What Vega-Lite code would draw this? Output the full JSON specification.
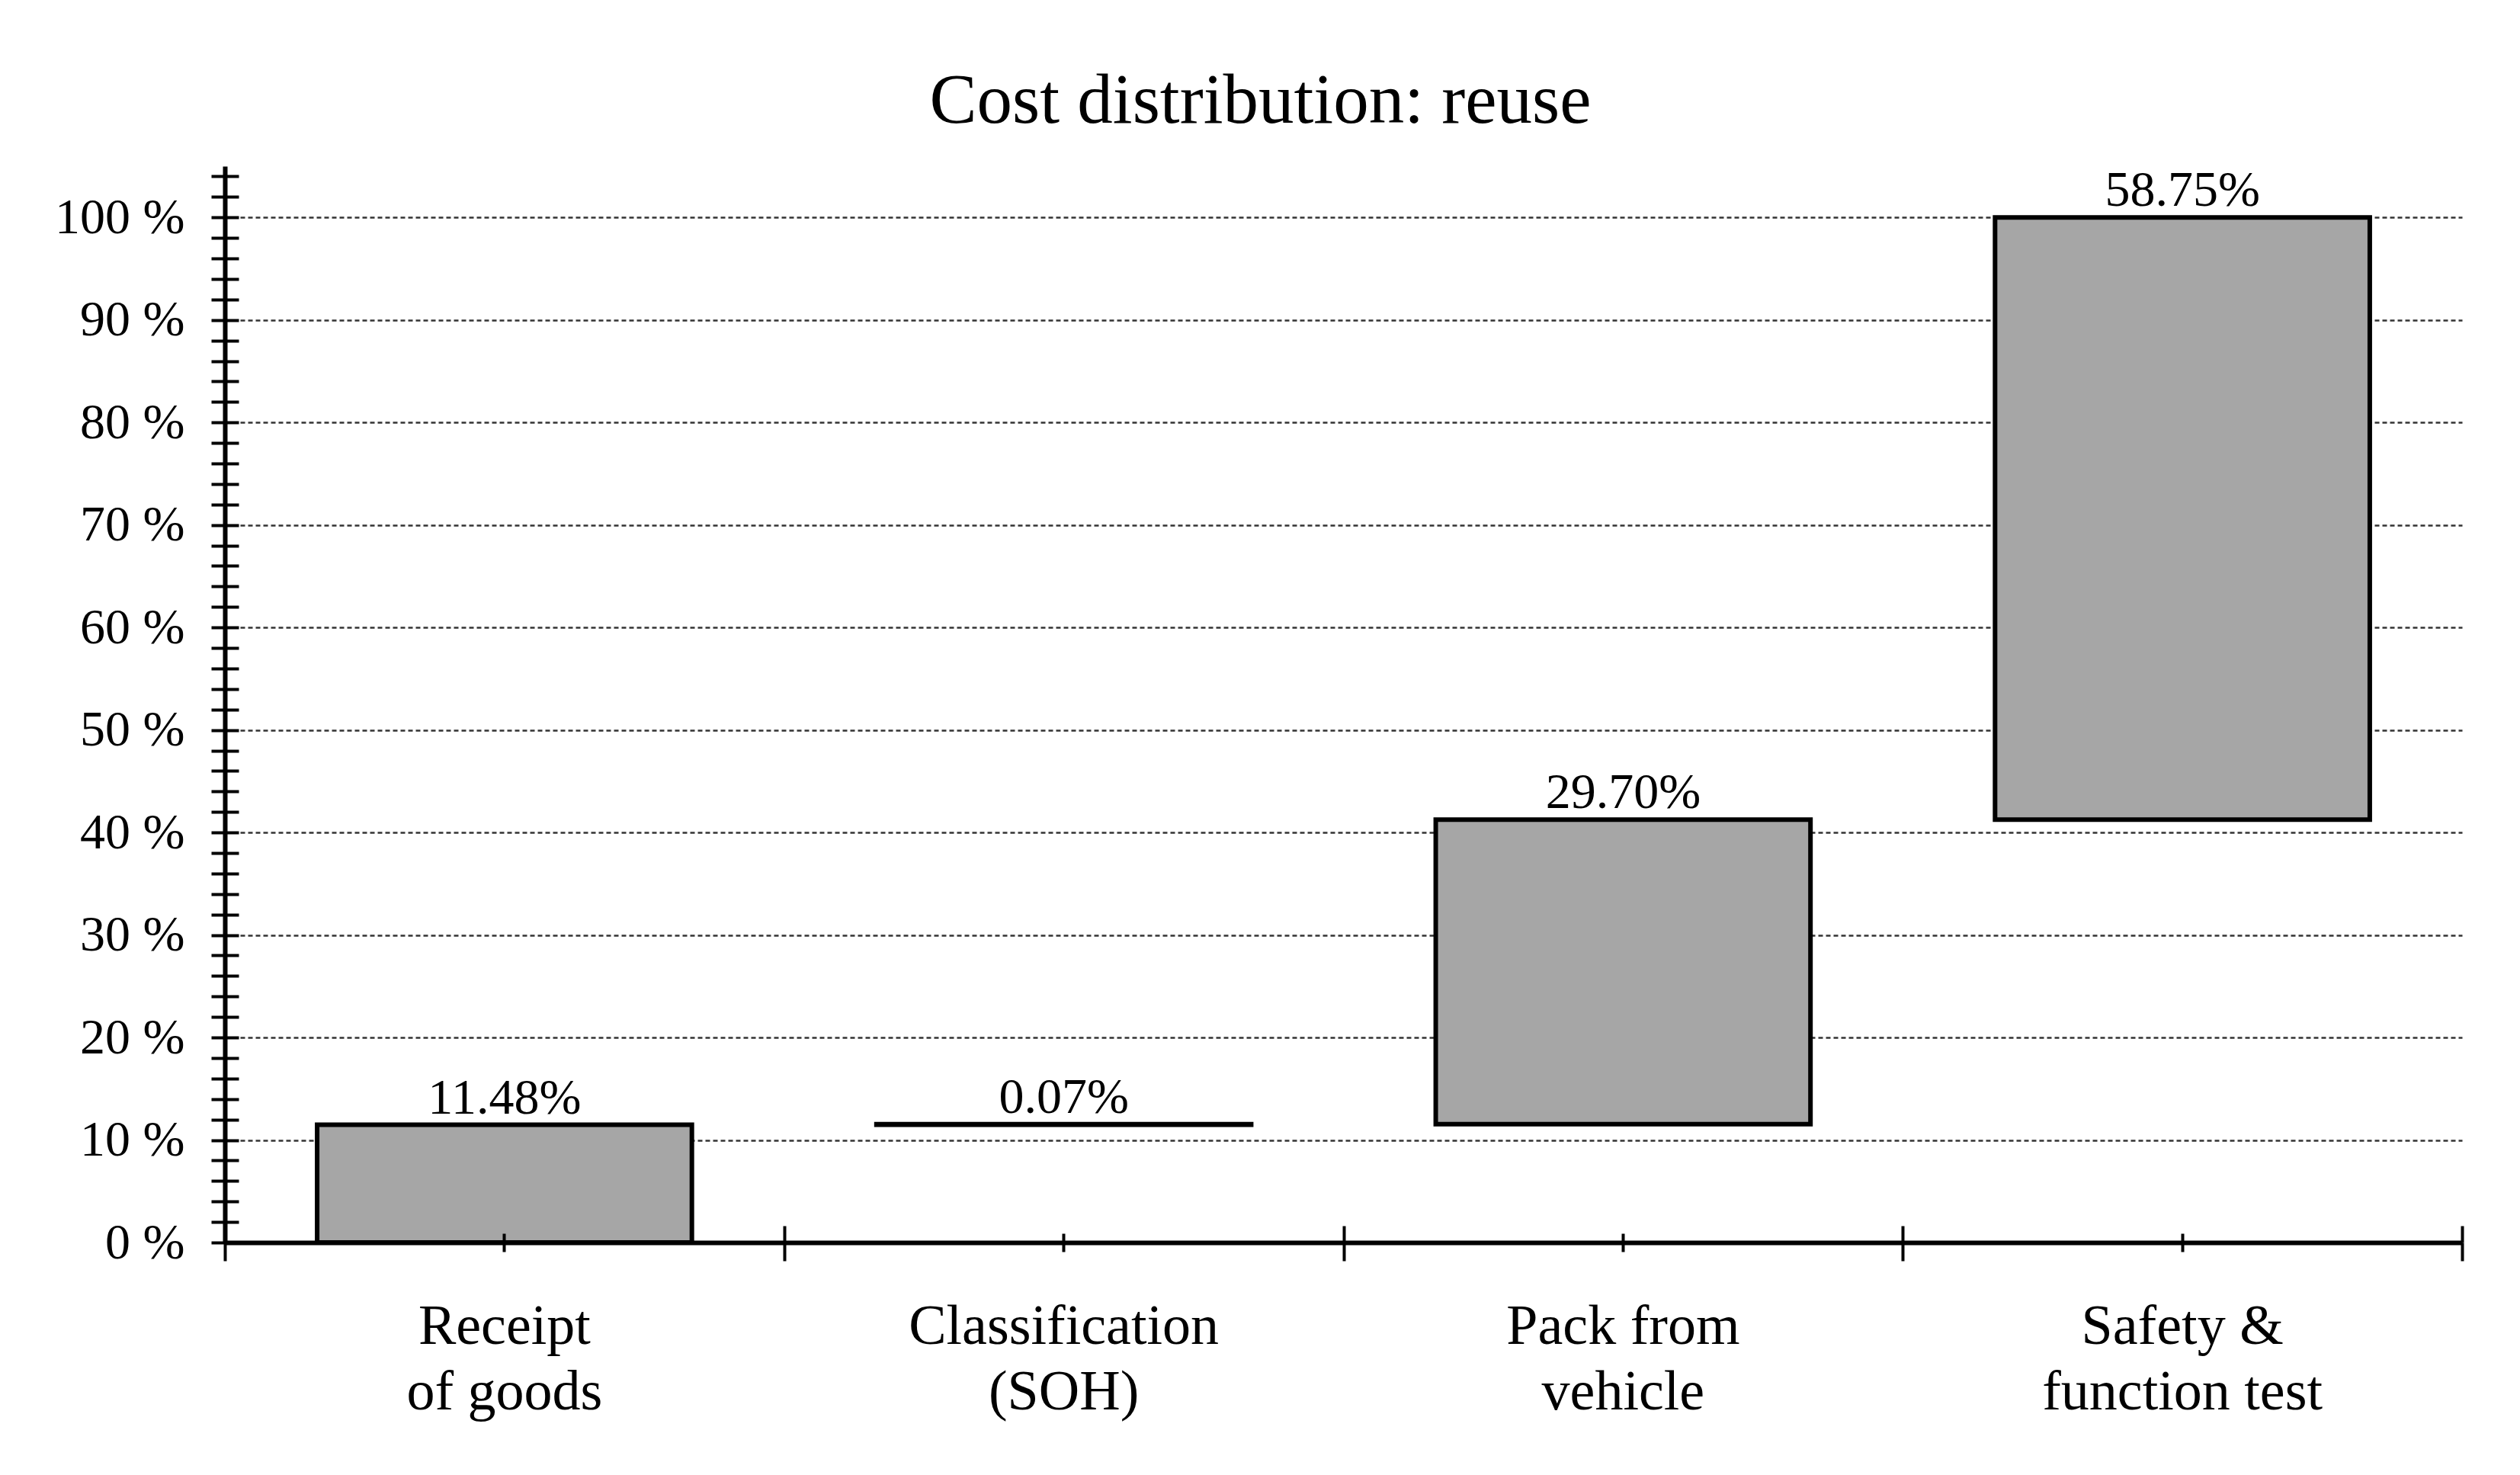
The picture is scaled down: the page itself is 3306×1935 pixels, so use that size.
{
  "$schema": "https://vega.github.io/schema/vega-lite/v6.json",
  "autosize": {"type": "none"},
  "padding": {"left": 295, "top": 218, "right": 76, "bottom": 305},
  "width": 2935,
  "height": 1412,
  "background": "white",
  "config": {"view": {"stroke": null}, "font": "Liberation Serif"},
  "title": {
    "text": "Cost distribution: reuse",
    "font": "Liberation Serif",
    "fontSize": 93,
    "fontWeight": "normal",
    "color": "black",
    "anchor": "middle",
    "dx": -109,
    "dy": 116,
    "offset": 60,
    "baseline": "alphabetic"
  },
  "data": {
    "values": [
      {"step": "Receipt of goods", "start": 0, "end": 11.48, "label": "11.48%"},
      {"step": "Classification (SOH)", "start": 11.48, "end": 11.55, "label": "0.07%"},
      {"step": "Pack from vehicle", "start": 11.55, "end": 41.25, "label": "29.70%"},
      {"step": "Safety & function test", "start": 41.25, "end": 100, "label": "58.75%"}
    ]
  },
  "resolve": {"axis": {"x": "independent", "y": "independent"}},
  "layer": [
    {
      "mark": {"type": "bar", "fill": "#a6a6a6", "stroke": "black", "strokeWidth": 6, "width": {"band": 0.67}},
      "encoding": {
        "x": {
          "field": "step", "type": "nominal", "sort": null,
          "scale": {"paddingInner": 0, "paddingOuter": 0},
          "axis": {
            "orient": "bottom",
            "labelExpr": "datum.label === 'Receipt of goods' ? ['Receipt', 'of goods'] : datum.label === 'Classification (SOH)' ? ['Classification', '(SOH)'] : datum.label === 'Pack from vehicle' ? ['Pack from', 'vehicle'] : ['Safety &', 'function test']",
            "labelAngle": 0,
            "labelFont": "Liberation Serif",
            "labelFontSize": 74,
            "labelLineHeight": 86,
            "labelBaseline": "top",
            "labelPadding": 62,
            "labelLimit": 1000,
            "labelColor": "black",
            "tickSize": 12,
            "tickWidth": 4,
            "tickColor": "black",
            "domainColor": "black",
            "domainWidth": 6,
            "grid": false,
            "title": null,
            "zindex": 1
          }
        },
        "y": {
          "field": "start", "type": "quantitative",
          "scale": {"domain": [0, 105], "nice": false, "zero": true},
          "axis": {
            "orient": "left",
            "values": [0, 2, 4, 6, 8, 10, 12, 14, 16, 18, 20, 22, 24, 26, 28, 30, 32, 34, 36, 38, 40, 42, 44, 46, 48, 50, 52, 54, 56, 58, 60, 62, 64, 66, 68, 70, 72, 74, 76, 78, 80, 82, 84, 86, 88, 90, 92, 94, 96, 98, 100, 102, 104],
            "labelExpr": "datum.value % 10 === 0 ? datum.value + ' %' : ''",
            "labelOverlap": false,
            "labelFlush": false,
            "labelFont": "Liberation Serif",
            "labelFontSize": 66,
            "labelColor": "black",
            "labelPadding": 35,
            "labelLimit": 1000,
            "tickSize": 18,
            "tickWidth": 4,
            "tickColor": "black",
            "domainColor": "black",
            "domainWidth": 6,
            "grid": true,
            "gridColor": "#333333",
            "gridDash": [6, 4],
            "gridWidth": 2.5,
            "gridOpacity": {"condition": {"test": "datum.value % 10 === 0 && datum.value > 0", "value": 1}, "value": 0},
            "title": null,
            "zindex": 0
          }
        },
        "y2": {"field": "end"}
      }
    },
    {
      "mark": {"type": "text", "baseline": "alphabetic", "dy": -15, "font": "Liberation Serif", "fontSize": 66, "color": "black"},
      "encoding": {
        "x": {
          "field": "step", "type": "nominal", "sort": null,
          "axis": {
            "orient": "bottom", "tickBand": "extent", "labels": false, "domain": false,
            "tickSize": 24, "tickWidth": 4, "tickColor": "black", "grid": false, "title": null, "zindex": 1
          }
        },
        "y": {
          "field": "end", "type": "quantitative",
          "axis": {
            "orient": "left",
            "values": [0, 2, 4, 6, 8, 10, 12, 14, 16, 18, 20, 22, 24, 26, 28, 30, 32, 34, 36, 38, 40, 42, 44, 46, 48, 50, 52, 54, 56, 58, 60, 62, 64, 66, 68, 70, 72, 74, 76, 78, 80, 82, 84, 86, 88, 90, 92, 94, 96, 98, 100, 102, 104],
            "labels": false, "domain": false, "grid": false,
            "tickSize": -18, "tickWidth": 4, "tickColor": "black", "title": null, "zindex": 1
          }
        },
        "text": {"field": "label"}
      }
    },
    {
      "mark": {"type": "bar", "opacity": 0, "width": {"band": 0.67}},
      "encoding": {
        "x": {
          "field": "step", "type": "nominal", "sort": null,
          "axis": {
            "orient": "bottom", "tickBand": "extent", "labels": false, "domain": false,
            "tickSize": -22, "tickWidth": 4, "tickColor": "black", "grid": false, "title": null, "zindex": 1
          }
        },
        "y": {"field": "start", "type": "quantitative", "axis": null},
        "y2": {"field": "end"}
      }
    },
    {
      "mark": {"type": "bar", "opacity": 0, "width": {"band": 0.67}},
      "encoding": {
        "x": {
          "field": "step", "type": "nominal", "sort": null,
          "axis": {
            "orient": "bottom", "labels": false, "domain": false,
            "tickSize": -12, "tickWidth": 4, "tickColor": "black", "grid": false, "title": null, "zindex": 1
          }
        },
        "y": {"field": "start", "type": "quantitative", "axis": null},
        "y2": {"field": "end"}
      }
    }
  ]
}
